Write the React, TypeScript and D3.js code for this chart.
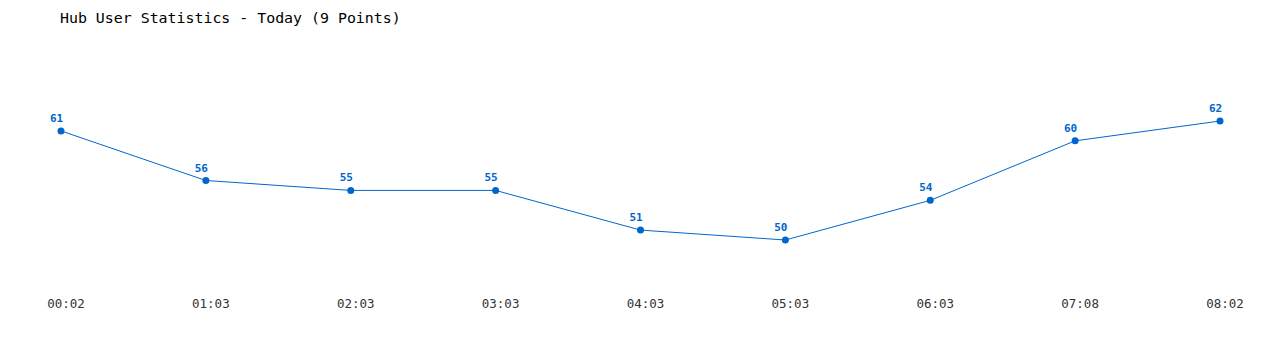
import React from "react";
import * as d3 from "d3";

const categories = ["00:02", "01:03", "02:03", "03:03", "04:03", "05:03", "06:03", "07:08", "08:02"];
const values = [61, 56, 55, 55, 51, 50, 54, 60, 62];
const title = "Hub User Statistics - Today (9 Points)";

const W = 1280;
const H = 350;
const COLOR = "#0066cc";
const FONT = "'DejaVu Sans Mono', 'Liberation Mono', monospace";

export default function App() {
  const x = d3.scalePoint<string>().domain(categories).range([61, 1220]);
  const y = d3.scaleLinear().domain([50, 62]).range([240, 121]);
  const line = d3
    .line<number>()
    .x((_, i) => x(categories[i]) as number)
    .y((d) => y(d));

  return (
    <svg width={W} height={H} style={{ position: "absolute", left: 0, top: 0, background: "#fff" }}>
      <text x={60} y={23} fontFamily={FONT} fontSize={14.9} fill="#000">
        {title}
      </text>
      <path d={line(values) || ""} fill="none" stroke={COLOR} strokeWidth={1} />
      {values.map((v, i) => (
        <g key={i}>
          <circle cx={x(categories[i])} cy={y(v)} r={3.5} fill={COLOR} />
          <text
            x={(x(categories[i]) as number) - 4.5}
            y={y(v) - 9}
            textAnchor="middle"
            fontFamily={FONT}
            fontWeight="bold"
            fontSize={11}
            fill={COLOR}
          >
            {v}
          </text>
        </g>
      ))}
      {categories.map((c) => (
        <text
          key={c}
          x={(x(c) as number) + 5}
          y={308}
          textAnchor="middle"
          fontFamily={FONT}
          fontSize={12.5}
          fill="#333"
        >
          {c}
        </text>
      ))}
    </svg>
  );
}
